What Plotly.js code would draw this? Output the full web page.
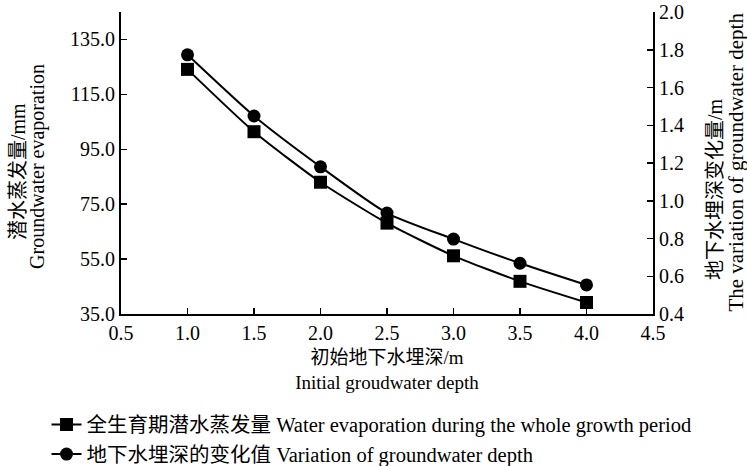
<!DOCTYPE html>
<html>
<head>
<meta charset="utf-8">
<script src="https://cdn.plot.ly/plotly-3.0.1.min.js"></script>
<style>html,body{margin:0;padding:0;background:#fff;}#chart{width:747px;height:466px;}</style>
</head>
<body>
<div id="chart"></div>
<script>
const depth = [1.0, 1.5, 2.0, 2.5, 3.0, 3.5, 4.0];
const evaporation = [124.1, 101.4, 83.0, 68.1, 56.2, 46.9, 39.2];
const depthChange = [1.773, 1.449, 1.180, 0.935, 0.797, 0.669, 0.554];
const evapName = "全生育期潜水蒸发量 Water evaporation during the whole growth period";
const changeName = "地下水埋深的变化值 Variation of groundwater depth";
const leftTitleCn = "潜水蒸发量/mm";
const leftTitleEn = "Groundwater evaporation";
const rightTitleCn = "地下水埋深变化量/m";
const rightTitleEn = "The variation of groundwater depth";

const FONT = "'Liberation Serif', 'Times New Roman', 'Noto Sans CJK SC', serif";

const traces = [
  {
    x: depth, y: evaporation, name: evapName, yaxis: 'y',
    type: 'scatter', mode: 'lines+markers',
    line: {color: '#000', width: 2, shape: 'spline', smoothing: 0.6},
    marker: {symbol: 'square', size: 13, color: '#000'}
  },
  {
    x: depth, y: depthChange, name: changeName, yaxis: 'y2',
    type: 'scatter', mode: 'lines+markers',
    line: {color: '#000', width: 2, shape: 'spline', smoothing: 0.6},
    marker: {symbol: 'circle', size: 13, color: '#000'}
  }
];

function vtitle(text, x, y, size) {
  return {text: text, xref: 'paper', yref: 'paper', x: x, y: y,
    xanchor: 'center', yanchor: 'middle', textangle: -90, showarrow: false,
    font: {family: FONT, size: size, color: '#000'}};
}

const layout = {
  width: 747, height: 466,
  margin: {l: 121, r: 94, t: 12, b: 152, autoexpand: false},
  paper_bgcolor: '#fff', plot_bgcolor: '#fff',
  font: {family: FONT, size: 20, color: '#000'},
  showlegend: true,
  legend: {
    x: -0.14, xanchor: 'left', y: -0.3, yanchor: 'top',
    orientation: 'v', itemwidth: 30, tracegroupgap: 0,
    font: {family: FONT, size: 20.5, color: '#000'},
    bgcolor: 'rgba(0,0,0,0)'
  },
  xaxis: {
    range: [0.5, 4.5], tickvals: [0.5,1.0,1.5,2.0,2.5,3.0,3.5,4.0,4.5], tickformat: '.1f',
    showline: true, linecolor: '#000', linewidth: 2, mirror: false,
    ticks: 'inside', ticklen: 6, tickwidth: 1.5, tickcolor: '#000',
    showgrid: false, zeroline: false,
    tickfont: {family: FONT, size: 20},
    title: {text: '初始地下水埋深/m<br>Initial groudwater depth', font: {family: FONT, size: 19}, standoff: 8}
  },
  yaxis: {
    range: [35, 145], tickvals: [35,55,75,95,115,135], tickformat: '.1f',
    showline: true, linecolor: '#000', linewidth: 2,
    ticks: 'inside', ticklen: 6, tickwidth: 1.5, tickcolor: '#000',
    showgrid: false, zeroline: false,
    tickfont: {family: FONT, size: 20}
  },
  yaxis2: {
    overlaying: 'y', side: 'right',
    range: [0.4, 2.0], tickvals: [0.4,0.6,0.8,1.0,1.2,1.4,1.6,1.8,2.0], tickformat: '.1f',
    showline: true, linecolor: '#000', linewidth: 2,
    ticks: 'inside', ticklen: 6, tickwidth: 1.5, tickcolor: '#000',
    showgrid: false, zeroline: false,
    tickfont: {family: FONT, size: 20}
  },
  annotations: [
    vtitle(leftTitleCn, -0.1936, 0.470, 20),
    vtitle(leftTitleEn, -0.156, 0.487, 20),
    vtitle(rightTitleCn, 1.1165, 0.414, 20),
    vtitle(rightTitleEn, 1.157, 0.503, 21)
  ]
};

Plotly.newPlot('chart', traces, layout, {displayModeBar: false, staticPlot: true});
</script>
</body>
</html>
